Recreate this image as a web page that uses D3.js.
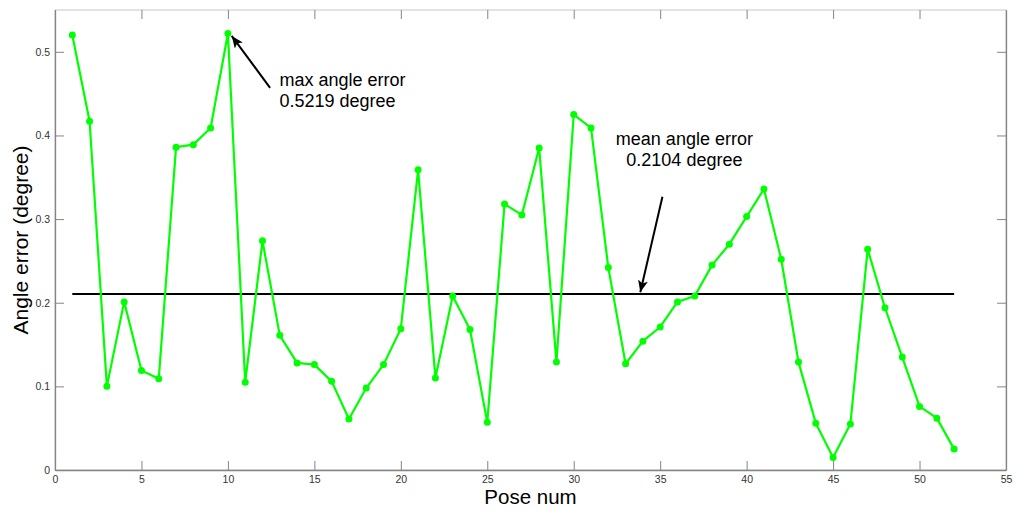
<!DOCTYPE html>
<html>
<head>
<meta charset="utf-8">
<script src="https://cdn.jsdelivr.net/npm/d3@7/dist/d3.min.js"></script>
<style>
    body{margin:0;background:#fff;}
    svg{display:block;font-family:"Liberation Sans", Arial, sans-serif;}
</style>
</head>
<body>
<div id="chart"></div>
<script>
// pose index 1..52
var poses = d3.range(1, 53);
// angle error per pose (degree)
var angleErrors = [
    0.520, 0.417, 0.100, 0.201, 0.119, 0.109, 0.386, 0.389, 0.409, 0.5219,
    0.105, 0.274, 0.161, 0.128, 0.126, 0.106, 0.061, 0.098, 0.126, 0.169,
    0.359, 0.110, 0.208, 0.168, 0.057, 0.318, 0.305, 0.385, 0.129, 0.425,
    0.409, 0.242, 0.127, 0.154, 0.171, 0.201, 0.208, 0.245, 0.270, 0.303,
    0.336, 0.252, 0.129, 0.056, 0.015, 0.055, 0.264, 0.194, 0.135, 0.076,
    0.062, 0.025
];
var meanError = 0.2104;
var xTicks = [0, 5, 10, 15, 20, 25, 30, 35, 40, 45, 50, 55];
var yTicks = [0, 0.1, 0.2, 0.3, 0.4, 0.5];

var width = 1024, height = 515;
var margin = {left:55, right:18, top:10, bottom:45};

var svg = d3.select('#chart').append('svg')
    .attr('width', width)
    .attr('height', height);

var x = d3.scaleLinear().domain([0, 55]).range([margin.left, width - margin.right]);
var y = d3.scaleLinear().domain([0, 0.55]).range([height - margin.bottom, margin.top]);

var axisColor = '#858585';
var tickLen = 9;

//坐标框
svg.append('rect')
    .attr('x', x(0)).attr('y', y(0.55))
    .attr('width', x(55) - x(0)).attr('height', y(0) - y(0.55))
    .attr('fill', 'none').attr('stroke', '#c8c8c8');

function styleAxis(g){
    g.select('.domain').attr('stroke', axisColor).attr('stroke-width', 1.3);
    g.selectAll('.tick line').attr('stroke', axisColor);
    g.selectAll('.tick text').attr('fill', '#333').attr('font-size', 10.5)
        .attr('font-family', '"Liberation Sans", Arial, sans-serif');
}

//axis-x (刻度线向内)
svg.append('g')
    .attr('transform', 'translate(0,' + y(0) + ')')
    .call(d3.axisBottom(x).tickValues(xTicks).tickSizeInner(-tickLen).tickSizeOuter(0).tickPadding(6))
    .call(styleAxis);
svg.append('g')
    .attr('transform', 'translate(0,' + y(0.55) + ')')
    .call(d3.axisTop(x).tickValues(xTicks).tickSizeInner(-tickLen).tickSizeOuter(0).tickFormat(''))
    .call(function(g){
        g.select('.domain').remove();
        g.selectAll('.tick line').attr('stroke', axisColor);
    });

//axis-y (刻度线向内)
svg.append('g')
    .attr('transform', 'translate(' + x(0) + ',0)')
    .call(d3.axisLeft(y).tickValues(yTicks).tickFormat(d3.format('')).tickSizeInner(-tickLen).tickSizeOuter(0).tickPadding(5))
    .call(styleAxis);
svg.append('g')
    .attr('transform', 'translate(' + x(55) + ',0)')
    .call(d3.axisRight(y).tickValues(yTicks).tickSizeInner(-tickLen).tickSizeOuter(0).tickFormat(''))
    .call(function(g){
        g.select('.domain').attr('stroke', axisColor).attr('stroke-width', 1.3);
        g.selectAll('.tick line').attr('stroke', axisColor);
    });

//平均误差线
svg.append('line')
    .attr('x1', x(1)).attr('x2', x(52))
    .attr('y1', y(meanError)).attr('y2', y(meanError))
    .attr('stroke', '#000').attr('stroke-width', 2);

//折线
var line = d3.line()
    .x(function(d, i){ return x(poses[i]); })
    .y(function(d){ return y(d); });
svg.append('path')
    .datum(angleErrors)
    .attr('d', line)
    .attr('fill', 'none')
    .attr('stroke', '#00ff00')
    .attr('stroke-width', 2.2)
    .attr('stroke-linejoin', 'round');
svg.append('g').selectAll('circle')
    .data(angleErrors)
    .enter().append('circle')
    .attr('cx', function(d, i){ return x(poses[i]); })
    .attr('cy', function(d){ return y(d); })
    .attr('r', 3.5)
    .attr('fill', '#00ff00');

//箭头
svg.append('defs').append('marker')
    .attr('id', 'arrow')
    .attr('viewBox', '0 0 12 10')
    .attr('refX', 12).attr('refY', 5)
    .attr('markerWidth', 12).attr('markerHeight', 10)
    .attr('markerUnits', 'userSpaceOnUse')
    .attr('orient', 'auto')
    .append('path')
    .attr('d', 'M0,0 L12,5 L0,10 L3,5 Z')
    .attr('fill', '#000');

function arrow(x1, y1, x2, y2){
    svg.append('line')
        .attr('x1', x(x1)).attr('y1', y(y1))
        .attr('x2', x(x2)).attr('y2', y(y2))
        .attr('stroke', '#000').attr('stroke-width', 2)
        .attr('marker-end', 'url(#arrow)');
}
arrow(12.44, 0.457, 10.22, 0.519);
arrow(35.13, 0.3267, 33.85, 0.2125);

function label(xv, yv, txt, anchor){
    svg.append('text')
        .attr('x', x(xv)).attr('y', y(yv))
        .attr('text-anchor', anchor)
        .attr('font-size', 18)
        .attr('fill', '#000')
        .text(txt);
}
label(12.98, 0.4586, 'max angle error', 'start');
label(12.98, 0.4346, '0.5219 degree', 'start');
label(36.4, 0.3890, 'mean angle error', 'middle');
label(36.4, 0.3640, '0.2104 degree', 'middle');

//坐标轴标题
svg.append('text')
    .attr('x', (x(0) + x(55)) / 2)
    .attr('y', 504)
    .attr('text-anchor', 'middle')
    .attr('font-size', 20.5)
    .text('Pose num');
svg.append('text')
    .attr('transform', 'translate(28,' + ((y(0) + y(0.55)) / 2) + ') rotate(-90)')
    .attr('text-anchor', 'middle')
    .attr('font-size', 21)
    .text('Angle error (degree)');
</script>
</body>
</html>
